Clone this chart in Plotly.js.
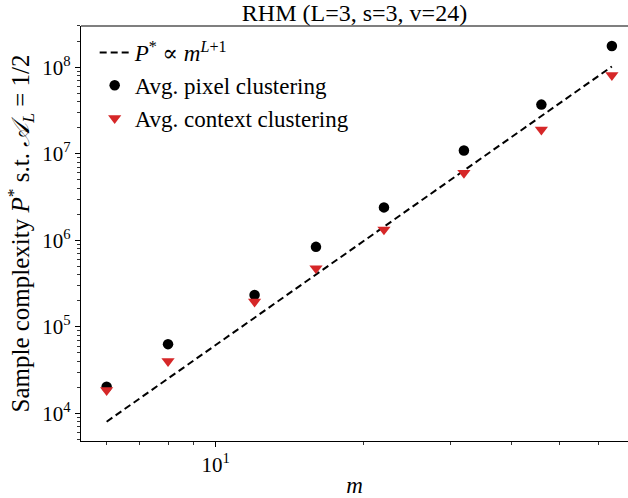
<!DOCTYPE html>
<html><head><meta charset="utf-8">
<script src="https://cdn.plot.ly/plotly-3.0.1.min.js"></script>
<style>html,body{margin:0;padding:0;background:#fff}</style>
</head><body><div id="chart" style="width:628px;height:498px"></div>
<script>
// Data
const m = [6, 8, 12, 16, 22, 32, 46, 64];
const pixelClustering = [2.03e4, 6.3e4, 2.33e5, 8.4e5, 2.4e6, 1.09e7, 3.7e7, 1.76e8];
const contextClustering = [1.85e4, 4.0e4, 1.95e5, 4.75e5, 1.33e6, 6.0e6, 1.9e7, 8.1e7];
const fitM = [6, 64];
const fitP = [8.0e3, 1.02e8];

const xTickVals = [10];
const xTickText = ['10<sup>1</sup>'];
const yTickVals = [1e4, 1e5, 1e6, 1e7, 1e8];
const yTickText = ['10<sup>4</sup>', '10<sup>5</sup>', '10<sup>6</sup>', '10<sup>7</sup>', '10<sup>8</sup>'];
const xMinor = [6, 7, 8, 9, 20, 30, 40, 50, 60];
const yMinor = [];
for (let e = 3; e <= 8; e++) for (let k = 2; k <= 9; k++) yMinor.push(k * Math.pow(10, e));

const FONT = 'Liberation Serif, DejaVu Serif, serif';

const traces = [
  {x: fitM, y: fitP, mode: 'lines', name: '<i>P</i><sup>*</sup> ∝ <i>m</i><sup><i>L</i>+1</sup>',
   line: {color: 'black', width: 2, dash: '7px,4px'}, legendgroup: 'a'},
  {x: m, y: pixelClustering, mode: 'markers', name: 'Avg. pixel clustering',
   marker: {symbol: 'circle', color: 'black', size: 10.5}, legendgroup: 'b'},
  {x: m, y: contextClustering, mode: 'markers', name: 'Avg. context clustering',
   marker: {symbol: 'triangle-down', color: '#d62728', size: 11.5}, legendgroup: 'c'}
];

const layout = {
  width: 628, height: 498,
  margin: {l: 81, r: 0, t: 26, b: 57},
  paper_bgcolor: 'white', plot_bgcolor: 'white',
  font: {family: FONT, size: 22, color: 'black'},
  title: {text: 'RHM (L=3, s=3, v=24)', x: 0.5, xref: 'paper', y: 0.975, yref: 'container',
          xanchor: 'center', yanchor: 'middle', font: {family: FONT, size: 24, color: 'black'}},
  showlegend: true,
  legend: {x: 0.025, y: 0.988, xanchor: 'left', yanchor: 'top', bgcolor: 'rgba(0,0,0,0)',
           font: {family: FONT, size: 23, color: 'black'}, tracegroupgap: 0, traceorder: 'grouped'},
  xaxis: {type: 'log', range: [0.726, 1.839], showline: true, linecolor: 'black', linewidth: 1.1,
          ticks: 'outside', ticklen: 5, tickwidth: 1, tickcolor: 'black',
          tickmode: 'array', tickvals: xTickVals, ticktext: xTickText,
          minor: {tickmode: 'array', tickvals: xMinor, ticks: 'outside', ticklen: 3, tickwidth: 0.8, tickcolor: 'black', showgrid: false},
          showgrid: false, zeroline: false, automargin: false,
          tickfont: {family: FONT, size: 21},
          title: {text: '<i>m</i>', font: {family: FONT, size: 23}, standoff: 6}},
  yaxis: {type: 'log', range: [3.680, 8.477], showline: true, linecolor: 'black', linewidth: 1.1,
          ticks: 'outside', ticklen: 5, tickwidth: 1, tickcolor: 'black',
          tickmode: 'array', tickvals: yTickVals, ticktext: yTickText,
          minor: {tickmode: 'array', tickvals: yMinor, ticks: 'outside', ticklen: 3, tickwidth: 0.8, tickcolor: 'black', showgrid: false},
          showgrid: false, zeroline: false, automargin: false,
          tickfont: {family: FONT, size: 21},
          title: {text: 'Sample complexity <i>P</i><sup>*</sup> s.t. <i>𝒜</i><sub><i>L</i></sub> = 1/2', font: {family: FONT, size: 25}, standoff: 5}},
  shapes: [{type: 'line', xref: 'paper', yref: 'paper', x0: 0, x1: 1, y0: 1, y1: 1,
            line: {color: 'black', width: 1.1}}]
};

Plotly.newPlot('chart', traces, layout, {displayModeBar: false, staticPlot: true});
</script>
</body></html>
